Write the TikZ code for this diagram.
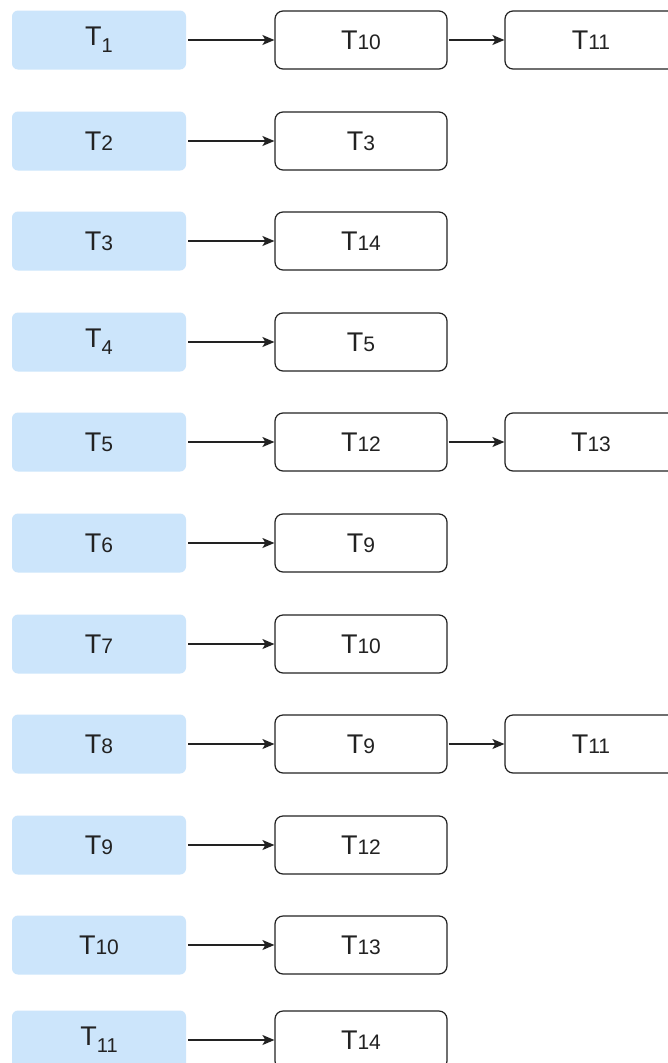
\documentclass[tikz,border=0pt]{standalone}
\usepackage{fontspec}
\setmainfont{Liberation Sans}
\usetikzlibrary{arrows.meta}
\definecolor{srcblue}{HTML}{CCE5FB}
\definecolor{inkgray}{HTML}{222222}
% task label with small digits on the baseline, or a true subscript
\newcommand{\tlab}[1]{T{\fontsize{21}{21}\selectfont #1}}
\newcommand{\tsub}[1]{T\raisebox{-7pt}{\fontsize{20}{20}\selectfont #1}}
\begin{document}
\begin{tikzpicture}[x=1pt,y=-1pt,
  srcbox/.style={fill=srcblue,rounded corners=6pt,minimum width=174pt,minimum height=59pt,inner sep=0pt,text=inkgray,font=\fontsize{27}{27}\selectfont},
  dstbox/.style={draw=inkgray,line width=1.2pt,fill=white,rounded corners=8pt,minimum width=172pt,minimum height=58pt,inner sep=0pt,text=inkgray,font=\fontsize{27}{27}\selectfont},
  link/.style={draw=inkgray,line width=1.4pt,-{Stealth[length=12pt,width=10pt,inset=3pt]}}]
\useasboundingbox (0,0) rectangle (668,1063);
\clip (0,0) rectangle (668,1063);
\fill[white] (0,0) rectangle (668,1063);
% source column
\node[srcbox] (s1)  at (99,40)   {\tsub{1}};
\node[srcbox] (s2)  at (99,141)  {\tlab{2}};
\node[srcbox] (s3)  at (99,241)  {\tlab{3}};
\node[srcbox] (s4)  at (99,342)  {\tsub{4}};
\node[srcbox] (s5)  at (99,442)  {\tlab{5}};
\node[srcbox] (s6)  at (99,543)  {\tlab{6}};
\node[srcbox] (s7)  at (99,644)  {\tlab{7}};
\node[srcbox] (s8)  at (99,744)  {\tlab{8}};
\node[srcbox] (s9)  at (99,845)  {\tlab{9}};
\node[srcbox] (s10) at (99,945)  {\tlab{10}};
\node[srcbox] (s11) at (99,1040) {\tsub{11}};
% first successors
\node[dstbox] (a1)  at (361,40)   {\tlab{10}};
\node[dstbox] (a2)  at (361,141)  {\tlab{3}};
\node[dstbox] (a3)  at (361,241)  {\tlab{14}};
\node[dstbox] (a4)  at (361,342)  {\tlab{5}};
\node[dstbox] (a5)  at (361,442)  {\tlab{12}};
\node[dstbox] (a6)  at (361,543)  {\tlab{9}};
\node[dstbox] (a7)  at (361,644)  {\tlab{10}};
\node[dstbox] (a8)  at (361,744)  {\tlab{9}};
\node[dstbox] (a9)  at (361,845)  {\tlab{12}};
\node[dstbox] (a10) at (361,945)  {\tlab{13}};
\node[dstbox] (a11) at (361,1040) {\tlab{14}};
% second successors
\node[dstbox] (b1) at (591,40)  {\tlab{11}};
\node[dstbox] (b5) at (591,442) {\tlab{13}};
\node[dstbox] (b8) at (591,744) {\tlab{11}};
% connectors
\foreach \i in {1,...,11} \draw[link] ([xshift=2pt]s\i.east) -- (a\i.west);
\foreach \i in {1,5,8} \draw[link] ([xshift=1pt]a\i.east) -- (b\i.west);
\end{tikzpicture}
\end{document}
